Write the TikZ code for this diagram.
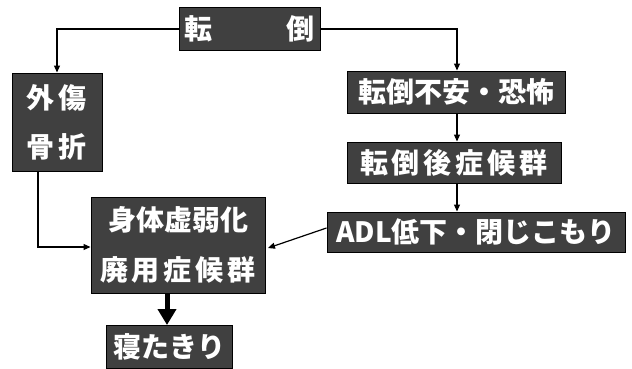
\documentclass[tikz,border=0pt]{standalone}
\usepackage{fontspec}
\newfontfamily\jp{Noto Sans CJK JP}
\usetikzlibrary{arrows.meta}
\begin{document}
\begin{tikzpicture}[x=1pt,y=-1pt,
  box/.style={draw=black,line width=1pt,fill=black!75,text=white,inner sep=0pt,
    font=\jp\bfseries\fontsize{28}{28}\selectfont,align=center},
  conn/.style={line width=1.2pt,-{Triangle[length=7pt,width=6pt]}},
  thick conn/.style={line width=5pt,-{Triangle[length=16pt,width=18pt]}}]
\useasboundingbox (0,0) rectangle (632,368);
\node[box,minimum width=141pt,minimum height=43pt] (top) at (249.5,28.5) {転\hspace{75pt}倒};
\node[box,minimum width=90pt,minimum height=98pt,font=\jp\bfseries\fontsize{28}{49}\selectfont] (gai) at (57,122) {外\kern4pt傷\\骨\kern4pt折};
\node[box,minimum width=218pt,minimum height=42pt] (fear) at (456,92) {転倒不安・恐怖};
\node[box,minimum width=214pt,minimum height=41pt] (post) at (454,162.5) {転\kern4pt倒\kern4pt後\kern4pt症\kern4pt候\kern4pt群};
\node[box,minimum width=298pt,minimum height=40pt] (adl) at (476,232) {ADL低下・閉じこもり};
\node[box,minimum width=174pt,minimum height=96pt,font=\jp\bfseries\fontsize{28}{50}\selectfont] (shin) at (178,245) {身体虚弱化\\廃\kern4pt用\kern4pt症\kern4pt候\kern4pt群};
\node[box,minimum width=126pt,minimum height=43pt] (ne) at (169,346.5) {寝たきり};
\coordinate (tl) at (57,29);
\coordinate (tr) at (457,29);
\coordinate (gb) at (38,171);
\coordinate (gl) at (38,247);
\draw[conn] (top.west |- tl) -- (tl) -- (gai.north);
\draw[conn] (top.east |- tr) -- (tr) -- (tr |- fear.north);
\draw[conn] (tr |- fear.south) -- (tr |- post.north);
\draw[conn] (tr |- post.south) -- (tr |- adl.north);
\draw[conn] (adl.west |- 0,228) -- (268,248);
\draw[conn] (gb) -- (gl) -- (shin.west |- gl);
\draw[thick conn] (167,293) -- (167,325);
\end{tikzpicture}
\end{document}
